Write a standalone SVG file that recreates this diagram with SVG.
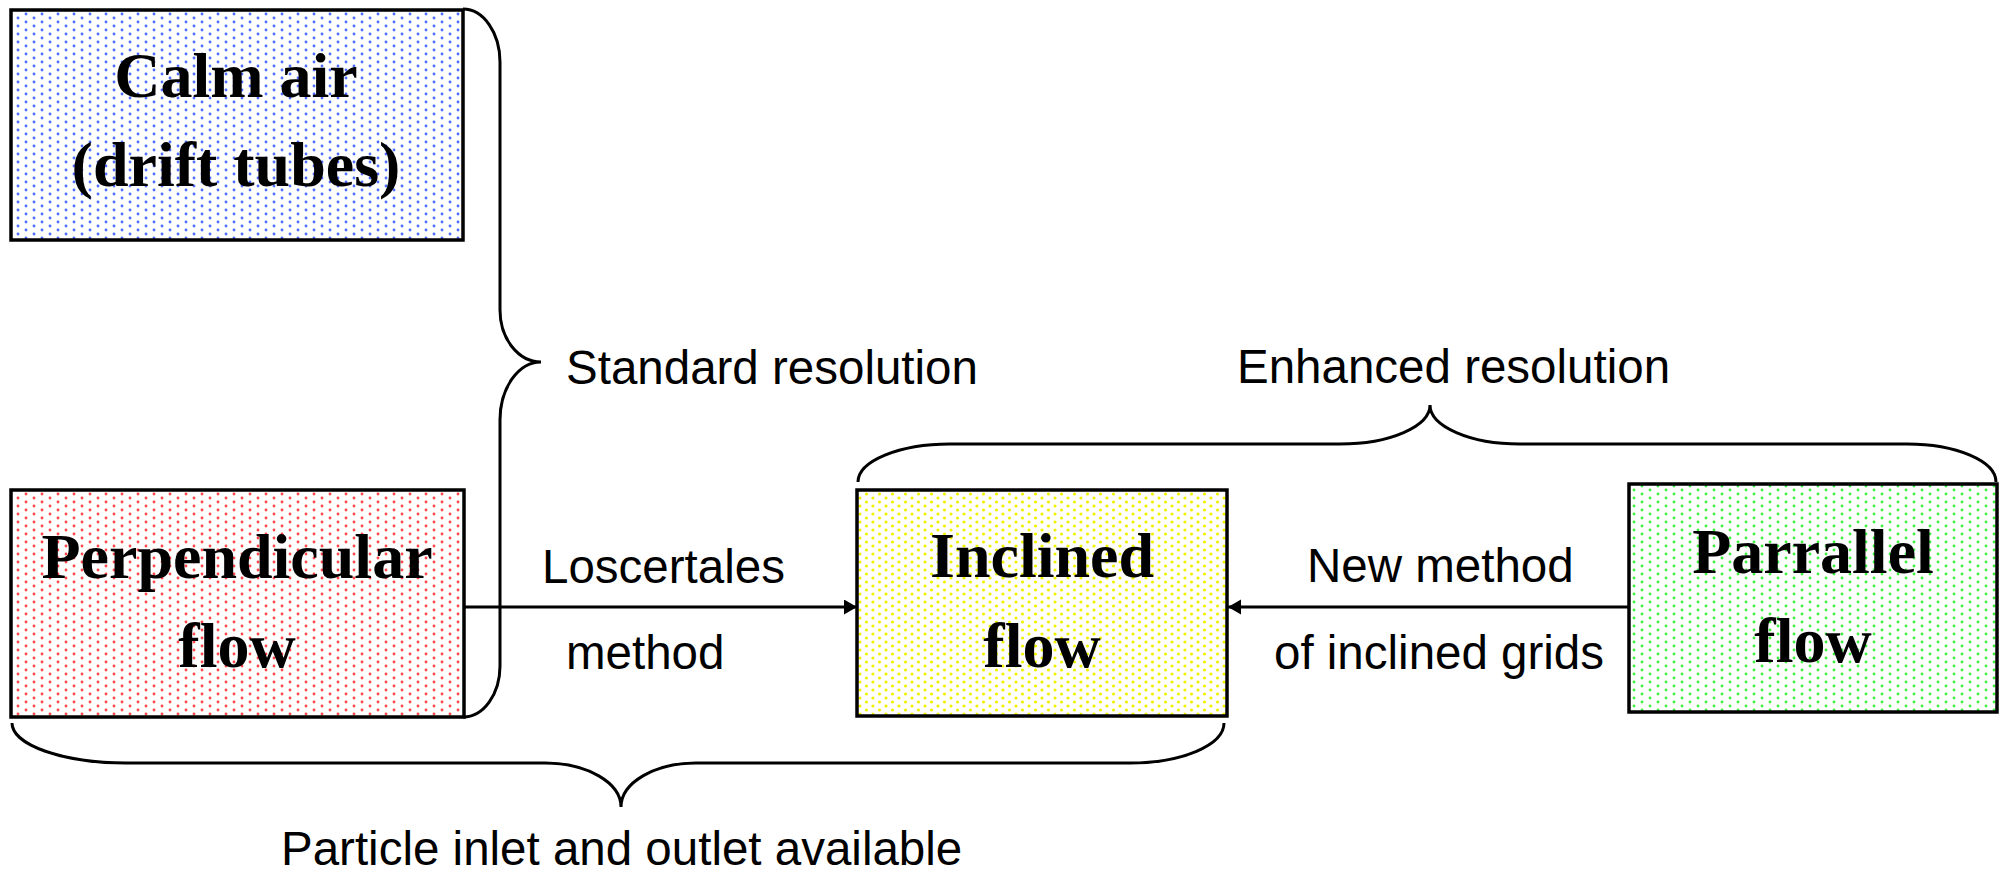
<svg xmlns="http://www.w3.org/2000/svg" width="2004" height="874" viewBox="0 0 2004 874">
<style>
.box{stroke:#000;stroke-width:3.5}
.node{font-family:"Liberation Serif","Times New Roman",serif;font-weight:bold;font-size:64px;fill:#000;text-anchor:middle}
.lbl{font-family:"Liberation Sans",Arial,sans-serif;font-size:47.5px;fill:#000}
.brace{fill:none;stroke:#000;stroke-width:3}
.conn{fill:none;stroke:#000;stroke-width:3}
</style>
<defs>
<pattern id="pBlue" patternUnits="userSpaceOnUse" width="16" height="8">
<rect width="16" height="8" fill="#fff"/>
<circle cx="2" cy="2" r="1.4" fill="#4d6bff"/>
<circle cx="10" cy="6" r="1.4" fill="#4d6bff"/>
</pattern>
<pattern id="pRed" patternUnits="userSpaceOnUse" width="16" height="8">
<rect width="16" height="8" fill="#fff"/>
<circle cx="2" cy="2" r="1.4" fill="#ff4545"/>
<circle cx="10" cy="6" r="1.4" fill="#ff4545"/>
</pattern>
<pattern id="pYellow" patternUnits="userSpaceOnUse" width="13" height="8">
<rect width="13" height="8" fill="#fff"/>
<circle cx="2" cy="2" r="1.6" fill="#f2f200"/>
<circle cx="8.5" cy="6" r="1.6" fill="#f2f200"/>
</pattern>
<pattern id="pGreen" patternUnits="userSpaceOnUse" width="16" height="8">
<rect width="16" height="8" fill="#fff"/>
<circle cx="2" cy="2" r="1.4" fill="#3ef03e"/>
<circle cx="10" cy="6" r="1.4" fill="#3ef03e"/>
</pattern>
<marker id="ah" markerUnits="userSpaceOnUse" markerWidth="14" markerHeight="16" refX="13" refY="7.5" orient="auto">
<path d="M0,0 L13,7.5 L0,15 z" fill="#000"/>
</marker>
</defs>
<rect width="2004" height="874" fill="#fff"/>

<g id="connectors">
<line class="conn" x1="464" y1="607" x2="857" y2="607" marker-end="url(#ah)"/>
<line class="conn" x1="1629" y1="607" x2="1228" y2="607" marker-end="url(#ah)"/>
<path id="brace-standard" class="brace" d="M463,9 A37,53 0 0 1 500,62 L500,310 A41,52 0 0 0 541,362 A41,58 0 0 0 500,420 L500,666 A37,51 0 0 1 463,717"/>
<path id="brace-enhanced" class="brace" d="M858,482 A92,38 0 0 1 950,444 L1340,444 A90,39 0 0 0 1430,405 A90,39 0 0 0 1520,444 L1907,444 A89,38 0 0 1 1996,482"/>
<path id="brace-particle" class="brace" d="M12,723 A114,40 0 0 0 126,763 L545,763 A76,44 0 0 1 621,807 A75,44 0 0 1 696,763 L1130,763 A94,40 0 0 0 1224,723"/>
</g>

<g id="node-calm-air">
<rect class="box" x="11" y="10" width="452" height="230" fill="url(#pBlue)"/>
<text class="node" x="236" y="97">Calm air</text>
<text class="node" x="236" y="186">(drift tubes)</text>
</g>

<g id="node-perpendicular">
<rect class="box" x="11" y="490" width="453" height="227" fill="url(#pRed)"/>
<text class="node" x="237" y="578">Perpendicular</text>
<text class="node" x="237" y="667">flow</text>
</g>

<g id="node-inclined">
<rect class="box" x="857" y="490" width="370" height="226" fill="url(#pYellow)"/>
<text class="node" x="1042" y="577">Inclined</text>
<text class="node" x="1042" y="667">flow</text>
</g>

<g id="node-parallel">
<rect class="box" x="1629" y="484" width="368" height="228" fill="url(#pGreen)"/>
<text class="node" x="1813" y="573">Parrallel</text>
<text class="node" x="1813" y="662">flow</text>
</g>

<g id="labels">
<text class="lbl" x="566" y="384">Standard resolution</text>
<text class="lbl" x="1237" y="383">Enhanced resolution</text>
<text class="lbl" x="542" y="583">Loscertales</text>
<text class="lbl" x="566" y="669">method</text>
<text class="lbl" x="1307" y="582">New method</text>
<text class="lbl" x="1274" y="669">of inclined grids</text>
<text class="lbl" x="281" y="865">Particle inlet and outlet available</text>
</g>
</svg>
